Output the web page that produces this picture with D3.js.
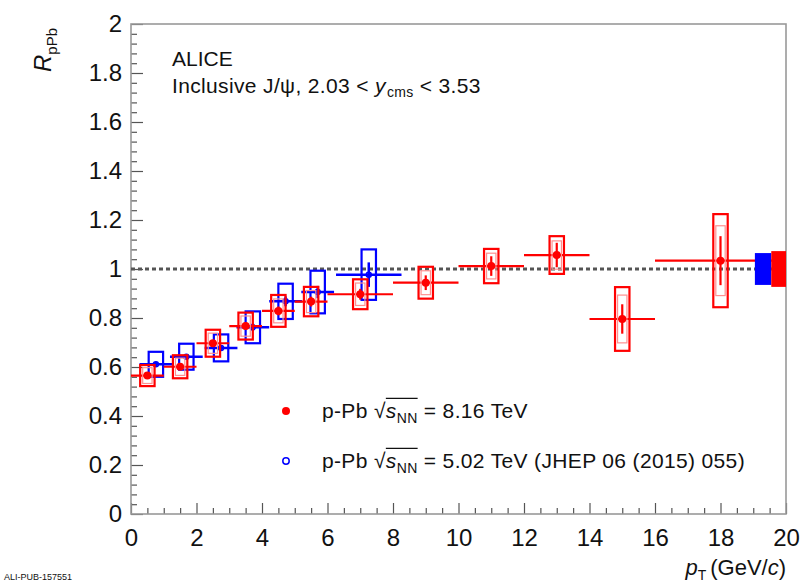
<!DOCTYPE html>
<html><head><meta charset="utf-8">
<script src="https://cdn.jsdelivr.net/npm/d3@7"></script>
<style>body{margin:0;background:#fff}svg{display:block}text{font-family:"Liberation Sans",Arial,Helvetica,sans-serif;fill:#111;white-space:pre}</style>
</head><body><svg id="c" width="804" height="583"></svg>
<script>
// ---- data: 8.16 TeV (red) ----
const redX    = [0.5, 1.5, 2.5, 3.5, 4.5, 5.5, 7, 9, 11, 13, 15, 18];
const redXlo  = [0, 1, 2, 3, 4, 5, 6, 8, 10, 12, 14, 16];
const redXhi  = [1, 2, 3, 4, 5, 6, 8, 10, 12, 14, 16, 20];
const redY    = [0.565, 0.601, 0.697, 0.767, 0.829, 0.867, 0.897, 0.944, 1.012, 1.057, 0.796, 1.034];
const redStat = [0.010, 0.010, 0.012, 0.015, 0.018, 0.020, 0.022, 0.030, 0.040, 0.050, 0.060, 0.100];
const redSyst = [0.043, 0.047, 0.055, 0.055, 0.065, 0.060, 0.061, 0.065, 0.070, 0.077, 0.130, 0.190];
// ---- data: 5.02 TeV (blue) ----
const blueX    = [0.76, 1.69, 2.75, 3.72, 4.72, 5.70, 7.26];
const blueXerr = [0.5, 0.5, 0.5, 0.5, 0.5, 0.5, 1.0];
const blueY    = [0.611, 0.642, 0.678, 0.762, 0.868, 0.906, 0.977];
const blueStat = [0.010, 0.010, 0.012, 0.015, 0.020, 0.025, 0.050];
const blueSyst = [0.051, 0.053, 0.055, 0.065, 0.072, 0.087, 0.103];
// ---- global uncertainties ----
const globalX0 = [19.05, 19.55];
const globalX1 = [19.55, 20.0];
const globalUnc = [0.065, 0.073];
const globalColor = ["#0000ff", "#ff0000"];
// ---- axes ----
const xTicks = [0, 2, 4, 6, 8, 10, 12, 14, 16, 18, 20];
const xTickLabels = ["0","2","4","6","8","10","12","14","16","18","20"];
const yTicks = [0, 0.2, 0.4, 0.6, 0.8, 1.0, 1.2, 1.4, 1.6, 1.8, 2.0];
const yTickLabels = ["0","0.2","0.4","0.6","0.8","1","1.2","1.4","1.6","1.8","2"];

const svg = d3.select("#c");
const L = 131, R = 786, T = 24, B = 514;
const x = d3.scaleLinear().domain([0, 20]).range([L, R]);
const y = d3.scaleLinear().domain([0, 2]).range([B, T]);
const boxHalf = 0.22;
const RED = "#ff0000", BLUE = "#0000ff";

// minor ticks
const xMinor = d3.range(0, 20.01, 0.5).filter(v => Math.abs(v/2 - Math.round(v/2)) > 1e-6);
const yMinor = d3.range(0, 2.001, 0.04).filter(v => Math.abs(v/0.2 - Math.round(v/0.2)) > 1e-6);

const axX = svg.append("g").attr("transform", `translate(0,${B})`)
  .call(d3.axisBottom(x).tickValues(xTicks).tickFormat((d,i)=>xTickLabels[i]).tickSize(-11).tickPadding(15));
const axXm = svg.append("g").attr("transform", `translate(0,${B})`)
  .call(d3.axisBottom(x).tickValues(xMinor).tickFormat("").tickSize(-6));
const axY = svg.append("g").attr("transform", `translate(${L},0)`)
  .call(d3.axisLeft(y).tickValues(yTicks).tickFormat((d,i)=>yTickLabels[i]).tickSize(-12).tickPadding(9));
const axYm = svg.append("g").attr("transform", `translate(${L},0)`)
  .call(d3.axisLeft(y).tickValues(yMinor).tickFormat("").tickSize(-6));
[axX, axXm, axY, axYm].forEach(a => {
  a.select(".domain").remove();
  a.selectAll("line").attr("stroke", "#555").attr("stroke-width", 1.2);
  a.selectAll("text").style("font-size", "24px").attr("fill", "#111");
});

// frame
svg.append("rect").attr("x", L).attr("y", T).attr("width", R - L).attr("height", B - T)
  .attr("fill", "none").attr("stroke", "#999").attr("stroke-width", 1.6);

// unity line
svg.append("line").attr("x1", x(0)).attr("x2", x(20)).attr("y1", y(1)).attr("y2", y(1))
  .attr("stroke", "#555").attr("stroke-width", 3).attr("stroke-dasharray", "4,3");

// blue series
const gb = svg.append("g");
blueX.forEach((v, i) => {
  gb.append("line").attr("x1", x(v - blueXerr[i])).attr("x2", x(v + blueXerr[i]))
    .attr("y1", y(blueY[i])).attr("y2", y(blueY[i])).attr("stroke", BLUE).attr("stroke-width", 2.5);
  gb.append("line").attr("x1", x(v)).attr("x2", x(v))
    .attr("y1", y(blueY[i] - blueStat[i])).attr("y2", y(blueY[i] + blueStat[i])).attr("stroke", BLUE).attr("stroke-width", 2.5);
  gb.append("rect").attr("x", x(v - boxHalf)).attr("width", x(v + boxHalf) - x(v - boxHalf))
    .attr("y", y(blueY[i] + blueSyst[i])).attr("height", y(blueY[i] - blueSyst[i]) - y(blueY[i] + blueSyst[i]))
    .attr("fill", "none").attr("stroke", BLUE).attr("stroke-width", 2.2);
  gb.append("circle").attr("cx", x(v)).attr("cy", y(blueY[i])).attr("r", 2.5)
    .attr("fill", "none").attr("stroke", BLUE).attr("stroke-width", 1.5);
});

// red series
const gr = svg.append("g");
redX.forEach((v, i) => {
  gr.append("line").attr("x1", x(redXlo[i])).attr("x2", x(redXhi[i]))
    .attr("y1", y(redY[i])).attr("y2", y(redY[i])).attr("stroke", RED).attr("stroke-width", 2.2);
  gr.append("line").attr("x1", x(v)).attr("x2", x(v))
    .attr("y1", y(redY[i] - redStat[i])).attr("y2", y(redY[i] + redStat[i])).attr("stroke", RED).attr("stroke-width", 2.2);
  gr.append("rect").attr("x", x(v - boxHalf)).attr("width", x(v + boxHalf) - x(v - boxHalf))
    .attr("y", y(redY[i] + redSyst[i])).attr("height", y(redY[i] - redSyst[i]) - y(redY[i] + redSyst[i]))
    .attr("fill", "none").attr("stroke", RED).attr("stroke-width", 2.2);
  gr.append("rect").attr("x", x(v - boxHalf * 0.65)).attr("width", x(v + boxHalf * 0.65) - x(v - boxHalf * 0.65))
    .attr("y", y(redY[i] + redSyst[i] * 0.75)).attr("height", y(redY[i] - redSyst[i] * 0.75) - y(redY[i] + redSyst[i] * 0.75))
    .attr("fill", "none").attr("stroke", "#ff9090").attr("stroke-width", 1.2);
  gr.append("circle").attr("cx", x(v)).attr("cy", y(redY[i])).attr("r", 4).attr("fill", RED);
});

// global boxes
globalX0.forEach((v, i) => {
  svg.append("rect").attr("x", x(v)).attr("width", x(globalX1[i]) - x(v))
    .attr("y", y(1 + globalUnc[i])).attr("height", y(1 - globalUnc[i]) - y(1 + globalUnc[i]))
    .attr("fill", globalColor[i]);
});

// rich text helper
function rich(g, x0, yb, parts, ls) {
  let cx = x0; let sqStart = null;
  parts.forEach(p => {
    if (p.sqrtStart) { sqStart = { x: cx, size: p.size0 }; return; }
    if (p.sqrtEnd) {
      g.append("line").attr("x1", sqStart.x).attr("x2", cx)
        .attr("y1", yb - sqStart.size * 0.93).attr("y2", yb - sqStart.size * 0.93)
        .attr("stroke", "#111").attr("stroke-width", 1.2);
      return;
    }
    const t = g.append("text").attr("x", cx).attr("y", yb + (p.dy || 0)).text(p.t)
      .attr("xml:space", "preserve")
      .style("font-size", p.size + "px").style("font-style", p.it ? "italic" : "normal")
      .style("letter-spacing", (ls || 0) + "px")
      .attr("fill", p.fill || "#111");
    cx += t.node().getComputedTextLength() + (p.pad || 0);
  });
  return cx - x0;
}

// header
svg.append("text").attr("x", 172).attr("y", 66).text("ALICE").style("font-size", "21px").attr("fill", "#111");
rich(svg.append("g"), 172, 93, [
  { t: "Inclusive J/\u03C8, 2.03 < ", size: 21 },
  { t: "y", size: 21, it: true, pad: 1 },
  { t: "cms", size: 14, dy: 4 },
  { t: " < 3.53", size: 21 }
], 0.35);

// legend
const lg = svg.append("g");
lg.append("circle").attr("cx", 286).attr("cy", 411).attr("r", 4).attr("fill", RED);
lg.append("circle").attr("cx", 286).attr("cy", 461).attr("r", 3.2).attr("fill", "none").attr("stroke", BLUE).attr("stroke-width", 1.5);
const legTexts = ["= 8.16 TeV", "= 5.02 TeV (JHEP 06 (2015) 055)"];
[418, 468].forEach((yb, i) => {
  rich(lg, 322, yb, [
    { t: "p-Pb ", size: 21 },
    { t: "\u221A", size: 21 },
    { sqrtStart: true, size0: 21 },
    { t: "s", size: 21, it: true },
    { t: "NN", size: 14, dy: 5 },
    { sqrtEnd: true },
    { t: " " + legTexts[i], size: 21 }
  ], 0.35);
});

// y axis title (rotated)
const gy = svg.append("g");
const wY = rich(gy, 0, 0, [{ t: "R", size: 24, it: true }, { t: "pPb", size: 15, dy: 6 }]);
gy.attr("transform", `translate(51,${T + 4}) rotate(-90) translate(${-wY},0)`);

// x axis title
const gx = svg.append("g");
const wX = rich(gx, 0, 0, [{ t: "p", size: 22, it: true }, { t: "T", size: 14, dy: 5, pad: 4 }, { t: "(GeV/", size: 22 }, { t: "c", size: 22, it: true }, { t: ")", size: 22 }]);
gx.attr("transform", `translate(${R - wX},575)`);

// footer id
svg.append("text").attr("x", 4).attr("y", 580).text("ALI-PUB-157551").style("font-size", "9px").attr("fill", "#888");
</script></body></html>
